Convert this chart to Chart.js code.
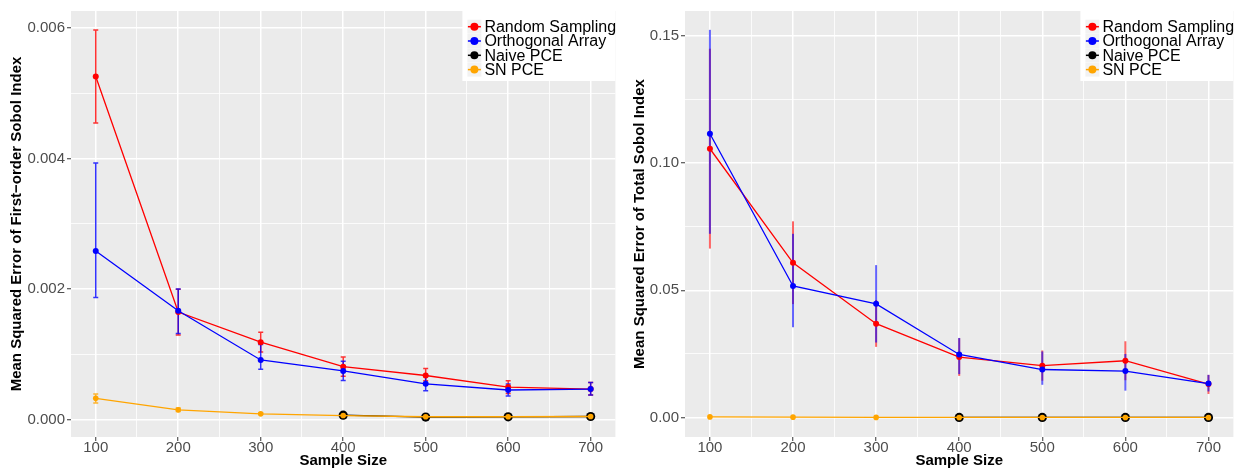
<!DOCTYPE html>
<html>
<head>
<meta charset="utf-8">
<script src="https://cdn.jsdelivr.net/npm/chart.js@4.4.1/dist/chart.umd.min.js"></script>
<style>
  body { margin: 0; background: #fff; }
  #leftChart { position: absolute; left: 0; top: 0; }
  #rightChart { position: absolute; left: 620px; top: 0; }
</style>
</head>
<body>
<canvas id="leftChart" width="620" height="470"></canvas>
<canvas id="rightChart" width="618" height="470"></canvas>
<script>
// ---- data ----
var sampleSizes = [100, 200, 300, 400, 500, 600, 700];
var seriesNames = ['Random Sampling', 'Orthogonal Array', 'Naive PCE', 'SN PCE'];
var seriesColors = ['#FF0000', '#0000FF', '#000000', '#FFA500'];

// first-order Sobol index
var firstRandom   = [0.00526, 0.00165, 0.001189, 0.000814, 0.000678, 0.000501, 0.00047];
var firstRandomLo = [0.004546, 0.00130, 0.00104, 0.000668, 0.000597, 0.000404, 0.00038];
var firstRandomHi = [0.00597, 0.00200, 0.00134, 0.00096, 0.000784, 0.000597, 0.000571];
var firstOrtho    = [0.002587, 0.001671, 0.000916, 0.000749, 0.000551, 0.000456, 0.00047];
var firstOrthoLo  = [0.001873, 0.001321, 0.000775, 0.000602, 0.000445, 0.000365, 0.00038];
var firstOrthoHi  = [0.003934, 0.002005, 0.001154, 0.000896, 0.000662, 0.000547, 0.000571];
var firstNaive    = [null, null, null, 0.00007, 0.000042, 0.000045, 0.00005];
var firstSN       = [0.000328, 0.000152, 0.000091, 0.000065, 0.000046, 0.000046, 0.00005];
var firstSNLo     = [0.000258, 0.000125, 0.00008, 0.00006, 0.000042, 0.000042, 0.000046];
var firstSNHi     = [0.000395, 0.000180, 0.000102, 0.00007, 0.00005, 0.00005, 0.000054];

// total Sobol index
var totalRandom   = [0.1056, 0.0608, 0.0369, 0.0238, 0.0204, 0.02235, 0.0132];
var totalRandomLo = [0.0664, 0.0446, 0.0278, 0.0164, 0.0145, 0.0147, 0.0093];
var totalRandomHi = [0.1449, 0.0771, 0.0462, 0.0312, 0.0264, 0.0300, 0.0168];
var totalOrtho    = [0.1115, 0.0517, 0.0447, 0.0248, 0.0189, 0.0183, 0.0134];
var totalOrthoLo  = [0.0722, 0.0355, 0.0295, 0.0171, 0.0129, 0.0106, 0.0103];
var totalOrthoHi  = [0.1523, 0.0722, 0.0599, 0.0313, 0.0260, 0.0250, 0.0168];
var totalNaive    = [null, null, null, 0.0001, 0.0001, 0.0001, 0.0001];
var totalSN       = [0.0003, 0.0002, 0.0001, 0.00008, 0.00008, 0.00008, 0.00008];

// ticks
var xTicks  = [100, 150, 200, 250, 300, 350, 400, 450, 500, 550, 600, 650, 700];
var xLabels = ['100', '', '200', '', '300', '', '400', '', '500', '', '600', '', '700'];
var firstYTicks  = [0, 0.001, 0.002, 0.003, 0.004, 0.005, 0.006];
var firstYLabels = ['0.000', '', '0.002', '', '0.004', '', '0.006'];
var totalYTicks  = [0, 0.025, 0.05, 0.075, 0.1, 0.125, 0.15];
var totalYLabels = ['0.00', '', '0.05', '', '0.10', '', '0.15'];

var FONT = '"Liberation Sans", Arial, sans-serif';

function pts(vals) {
    return sampleSizes.map(function (s, i) { return {x: s, y: vals[i]}; });
}

function hexA(hex, a) {
    var r = parseInt(hex.substr(1, 2), 16), g = parseInt(hex.substr(3, 2), 16), b = parseInt(hex.substr(5, 2), 16);
    return 'rgba(' + r + ',' + g + ',' + b + ',' + a + ')';
}

// grey panel background
var panelBg = {
    id: 'panelBg',
    beforeDraw: function (chart) {
        var a = chart.chartArea, c = chart.ctx;
        c.save();
        c.fillStyle = '#EBEBEB';
        c.fillRect(a.left, a.top, a.right - a.left, a.bottom - a.top);
        c.restore();
    }
};

// error bars from lo/hi arrays kept on the dataset
var errorBars = {
    id: 'errorBars',
    beforeDatasetsDraw: function (chart, args, opts) {
        var c = chart.ctx, xs = chart.scales.x, ys = chart.scales.y;
        c.save();
        chart.data.datasets.forEach(function (ds) {
            if (!ds.errLo) return;
            c.strokeStyle = hexA(ds.borderColor, opts.alpha);
            c.lineWidth = opts.width;
            for (var i = 0; i < sampleSizes.length; i++) {
                if (ds.errLo[i] == null) continue;
                var px = xs.getPixelForValue(sampleSizes[i]);
                var y1 = ys.getPixelForValue(ds.errLo[i]);
                var y2 = ys.getPixelForValue(ds.errHi[i]);
                c.beginPath();
                c.moveTo(px, y1); c.lineTo(px, y2);
                if (opts.cap > 0) {
                    c.moveTo(px - opts.cap, y1); c.lineTo(px + opts.cap, y1);
                    c.moveTo(px - opts.cap, y2); c.lineTo(px + opts.cap, y2);
                }
                c.stroke();
            }
        });
        c.restore();
    }
};

// ggplot-like legend inside the panel, top right
var insideLegend = {
    id: 'insideLegend',
    afterDraw: function (chart) {
        var a = chart.chartArea, c = chart.ctx;
        var w = 153, h = 70;
        var left = a.right - w, top = a.top;
        c.save();
        c.fillStyle = '#FFFFFF';
        c.fillRect(left, top, w, h);
        c.font = '16px ' + FONT;
        c.textBaseline = 'middle';
        for (var i = 0; i < seriesNames.length; i++) {
            var cy = top + 15.7 + i * 14.3;
            c.fillStyle = '#F2F2F2';
            c.fillRect(left + 5, cy - 7, 14, 14);
            c.strokeStyle = seriesColors[i];
            c.lineWidth = 1.5;
            c.beginPath();
            c.moveTo(left + 5.5, cy); c.lineTo(left + 18.5, cy);
            c.stroke();
            c.fillStyle = seriesColors[i];
            c.beginPath();
            c.arc(left + 12, cy, 4, 0, Math.PI * 2);
            c.fill();
            c.fillStyle = '#000000';
            c.fillText(seriesNames[i], left + 22, cy + 1);
        }
        c.restore();
    }
};

function makeChart(id, cfg) {
    var isMajor = function (labels, ticks) {
        return function (ctx) {
            var k = ticks.indexOf(ctx.tick ? ctx.tick.value : NaN);
            return k >= 0 && labels[k] !== '';
        };
    };
    var xMajor = isMajor(xLabels, xTicks);
    var yMajor = isMajor(cfg.yLabels, cfg.yTicks);

    var datasets = [
        {label: seriesNames[0], data: pts(cfg.random), borderColor: seriesColors[0], backgroundColor: seriesColors[0],
         errLo: cfg.randomLo, errHi: cfg.randomHi, pointRadius: 3, order: 3},
        {label: seriesNames[1], data: pts(cfg.ortho), borderColor: seriesColors[1], backgroundColor: seriesColors[1],
         errLo: cfg.orthoLo, errHi: cfg.orthoHi, pointRadius: 3, order: 2},
        {label: seriesNames[2], data: pts(cfg.naive), borderColor: seriesColors[2], backgroundColor: seriesColors[2],
         pointRadius: 4.6, order: 1},
        {label: seriesNames[3], data: pts(cfg.sn), borderColor: seriesColors[3], backgroundColor: seriesColors[3],
         errLo: cfg.snLo, errHi: cfg.snHi, pointRadius: 2.8, order: 0}
    ];
    datasets.forEach(function (d) {
        d.showLine = true;
        d.borderWidth = 1.3;
        d.pointBorderWidth = 0;
        d.pointHoverRadius = d.pointRadius;
        d.tension = 0;
    });

    return new Chart(document.getElementById(id), {
        type: 'scatter',
        data: {datasets: datasets},
        options: {
            responsive: false,
            animation: false,
            layout: {padding: {left: 0, right: cfg.padRight, top: 7, bottom: 0}},
            plugins: {
                legend: {display: false},
                tooltip: {enabled: false},
                errorBars: {alpha: cfg.errAlpha, width: cfg.errWidth, cap: cfg.errCap}
            },
            scales: {
                x: {
                    type: 'linear', min: 70, max: 730,
                    afterBuildTicks: function (s) { s.ticks = xTicks.map(function (v) { return {value: v}; }); },
                    afterFit: function (s) { s.height = 33; },
                    border: {display: false},
                    grid: {
                        color: '#FFFFFF',
                        lineWidth: function (ctx) { return xMajor(ctx) ? 1.5 : 0.8; },
                        tickColor: function (ctx) { return xMajor(ctx) ? '#333333' : 'rgba(0,0,0,0)'; },
                        tickLength: 4, tickWidth: 1
                    },
                    ticks: {
                        autoSkip: false, maxRotation: 0, padding: -2, color: '#4D4D4D',
                        font: {family: FONT, size: 15},
                        callback: function (v, i) { return xLabels[i]; }
                    },
                    title: {display: true, text: 'Sample Size', color: '#000000',
                            font: {family: FONT, size: 15, weight: 'bold'}, padding: {top: 0, bottom: 0}}
                },
                y: {
                    type: 'linear', min: cfg.yMin, max: cfg.yMax,
                    afterBuildTicks: function (s) { s.ticks = cfg.yTicks.map(function (v) { return {value: v}; }); },
                    afterFit: function (s) { s.width = cfg.yWidth; },
                    border: {display: false},
                    grid: {
                        color: '#FFFFFF',
                        lineWidth: function (ctx) { return yMajor(ctx) ? 1.5 : 0.8; },
                        tickColor: function (ctx) { return yMajor(ctx) ? '#333333' : 'rgba(0,0,0,0)'; },
                        tickLength: 4, tickWidth: 1
                    },
                    ticks: {
                        autoSkip: false, padding: 2, color: '#4D4D4D',
                        font: {family: FONT, size: 15},
                        callback: function (v, i) { return cfg.yLabels[i]; }
                    },
                    title: {display: true, text: cfg.yTitle, color: '#000000',
                            font: {family: FONT, size: 15, weight: 'bold'}, padding: {top: cfg.titlePad, bottom: 0}}
                }
            }
        },
        plugins: [panelBg, errorBars, insideLegend]
    });
}

makeChart('leftChart', {
    random: firstRandom, randomLo: firstRandomLo, randomHi: firstRandomHi,
    ortho: firstOrtho, orthoLo: firstOrthoLo, orthoHi: firstOrthoHi,
    naive: firstNaive, sn: firstSN, snLo: firstSNLo, snHi: firstSNHi,
    yTicks: firstYTicks, yLabels: firstYLabels, yMin: -0.000264, yMax: 0.006263,
    yTitle: 'Mean Squared Error of First\u2212order Sobol Index',
    yWidth: 71, padRight: 4, titlePad: 8,
    errAlpha: 0.8, errWidth: 1.5, errCap: 2.5
});

makeChart('rightChart', {
    random: totalRandom, randomLo: totalRandomLo, randomHi: totalRandomHi,
    ortho: totalOrtho, orthoLo: totalOrthoLo, orthoHi: totalOrthoHi,
    naive: totalNaive, sn: totalSN, snLo: null, snHi: null,
    yTicks: totalYTicks, yLabels: totalYLabels, yMin: -0.0076, yMax: 0.1597,
    yTitle: 'Mean Squared Error of Total Sobol Index',
    yWidth: 65, padRight: 0, titlePad: 11,
    errAlpha: 0.6, errWidth: 2, errCap: 0
});
</script>
</body>
</html>
